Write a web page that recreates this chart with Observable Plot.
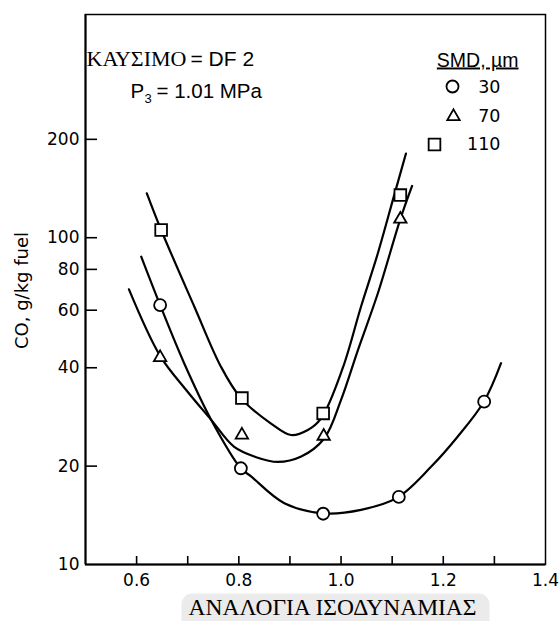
<!DOCTYPE html>
<html>
<head>
<meta charset="utf-8">
<script src="https://cdn.jsdelivr.net/npm/d3@7"></script>
<script src="https://cdn.jsdelivr.net/npm/@observablehq/plot@0.6"></script>
<style>
  html, body { margin: 0; padding: 0; background: #fff; }
</style>
</head>
<body>
<div id="chart"></div>
<script>
// CO emission index versus equivalence ratio for three spray drop sizes (SMD)

// Measured points
const phi30 = [0.646, 0.804, 0.965, 1.113, 1.280];
const co30  = [62.2, 19.7, 14.3, 16.1, 31.5];
const phi70 = [0.646, 0.806, 0.966, 1.116];
const co70  = [43.0, 24.9, 24.7, 114];
const phi110 = [0.648, 0.806, 0.965, 1.116];
const co110  = [105.6, 32.3, 29.0, 135];

// Fitted curves through each series
const fitPhi30 = [0.609, 0.646, 0.693, 0.746, 0.804, 0.824, 0.889, 0.964, 1.039, 1.111, 1.176, 1.228, 1.280, 1.313];
const fitCo30  = [87.5, 62.2, 41.3, 27.7, 19.7, 18.6, 15.4, 14.35, 14.7, 16.05, 19.9, 24.6, 31.6, 41.3];
const fitPhi70 = [0.585, 0.646, 0.697, 0.746, 0.791, 0.834, 0.876, 0.922, 0.967, 1.000, 1.033, 1.072, 1.116, 1.139];
const fitCo70  = [69.5, 43.5, 34.2, 27.7, 22.9, 21.3, 20.6, 21.4, 24.3, 31.9, 45.3, 67.6, 114, 144];
const fitPhi110 = [0.620, 0.648, 0.713, 0.765, 0.804, 0.863, 0.902, 0.935, 0.961, 1.003, 1.039, 1.072, 1.104, 1.127];
const fitCo110  = [136.7, 105.6, 61.5, 40.3, 32.3, 27.0, 24.9, 25.8, 28.0, 39.8, 61.5, 89.6, 135, 181];

// Axis ticks
const xTickLabels = [0.6, 0.8, 1.0, 1.2, 1.4];
const xTicks = [0.6, 0.7, 0.8, 0.9, 1.0, 1.1, 1.2, 1.3];
const yTickLabels = [10, 20, 40, 60, 80, 100, 200];
const yTicks = [20, 40, 60, 80, 100, 200];

// Texts
const smdValues = ["30", "70", "110"];
const legendTitle = "SMD, µm";
const fuelLabel = "ΚΑΥΣΙΜΟ";
const fuelValue = "= DF 2";
const pressureSymbol = "P";
const pressureIndex = "3";
const pressureValue = "= 1.01 MPa";
const xLabel = "ΑΝΑΛΟΓΙΑ ΙΣΟΔΥΝΑΜΙΑΣ";
const yLabel = "CO, g/kg fuel";

const rows = (xs, ys) => xs.map((x, i) => ({x, y: ys[i]}));

const series = [
  {points: rows(phi30, co30),   fit: rows(fitPhi30, fitCo30),   symbol: "circle",   r: 6.0, lx: -93,  ly: 72},
  {points: rows(phi70, co70),   fit: rows(fitPhi70, fitCo70),   symbol: "triangle", r: 4.6, lx: -92,  ly: 102},
  {points: rows(phi110, co110), fit: rows(fitPhi110, fitCo110), symbol: "square",   r: 6.6, lx: -111, ly: 130}
];

const W = 560, H = 621;
const mL = 85, mR = 15, mT = 14, mB = 57;
const frameW = W - mL - mR, frameH = H - mT - mB;
const sans = "DejaVu Sans";
const helv = "Liberation Sans";
const serif = "Liberation Serif";

const marks = [
  Plot.frame({strokeWidth: 1.5}),
  Plot.ruleX([0.5], {strokeWidth: 2}),
  Plot.ruleY([10], {strokeWidth: 2}),
  Plot.ruleX(xTicks, {insetTop: frameH - 8, strokeWidth: 1.6}),
  Plot.ruleY(yTicks, {insetRight: frameW - 12, strokeWidth: 1.6}),
  // tick labels
  Plot.text(xTickLabels, {
    x: d => d, frameAnchor: "bottom", dy: 9, textAnchor: "middle", lineAnchor: "top",
    text: d => d.toFixed(1), fontFamily: sans, fontSize: 17, fill: "black"
  }),
  Plot.text(yTickLabels, {
    y: d => d, frameAnchor: "left", dx: -6, textAnchor: "end", lineAnchor: "middle",
    text: d => String(d), fontFamily: sans, fontSize: 17, fill: "black"
  })
];

for (const s of series) {
  marks.push(Plot.line(s.fit, {x: "x", y: "y", curve: "catmull-rom", stroke: "black", strokeWidth: 2.2}));
}
for (const s of series) {
  marks.push(Plot.dot(s.points, {x: "x", y: "y", symbol: s.symbol, r: s.r, stroke: "black", fill: "white", strokeWidth: 1.8}));
}

// Legend
marks.push(Plot.text([legendTitle], {
  frameAnchor: "top-right", dx: -27, dy: 52, textAnchor: "end", lineAnchor: "bottom",
  fontFamily: helv, fontSize: 19.5, fill: "black"
}));
series.forEach((s, i) => {
  marks.push(Plot.dot([0], {
    frameAnchor: "top-right", dx: s.lx, dy: s.ly, symbol: s.symbol, r: s.r,
    stroke: "black", fill: "white", strokeWidth: 1.8
  }));
  marks.push(Plot.text([smdValues[i]], {
    frameAnchor: "top-right", dx: -45, dy: 78.5 + i * 28.7, textAnchor: "end", lineAnchor: "bottom",
    fontFamily: sans, fontSize: 17.5, fill: "black"
  }));
});

// Operating conditions
marks.push(Plot.text([fuelLabel], {
  frameAnchor: "top-left", dx: 1, dy: 51, textAnchor: "start", lineAnchor: "bottom",
  fontFamily: serif, fontSize: 22, fill: "black"
}));
marks.push(Plot.text([fuelValue], {
  frameAnchor: "top-left", dx: 105, dy: 51, textAnchor: "start", lineAnchor: "bottom",
  fontFamily: helv, fontSize: 21, fill: "black"
}));
marks.push(Plot.text([pressureSymbol], {
  frameAnchor: "top-left", dx: 45, dy: 83, textAnchor: "start", lineAnchor: "bottom",
  fontFamily: helv, fontSize: 20.5, fill: "black"
}));
marks.push(Plot.text([pressureIndex], {
  frameAnchor: "top-left", dx: 59, dy: 88, textAnchor: "start", lineAnchor: "bottom",
  fontFamily: helv, fontSize: 13, fill: "black"
}));
marks.push(Plot.text([pressureValue], {
  frameAnchor: "top-left", dx: 71, dy: 83, textAnchor: "start", lineAnchor: "bottom",
  fontFamily: helv, fontSize: 20.5, fill: "black"
}));

// Axis titles
marks.push(Plot.text([yLabel], {
  frameAnchor: "left", dx: -63, dy: 1, rotate: -90, textAnchor: "middle", lineAnchor: "middle",
  fontFamily: sans, fontSize: 18, fill: "black"
}));
marks.push(Plot.text([xLabel], {
  frameAnchor: "bottom", dx: 17, dy: 50, textAnchor: "middle", lineAnchor: "bottom",
  fontFamily: serif, fontSize: 23.5, fill: "black"
}));

const chart = Plot.plot({
  width: W,
  height: H,
  marginLeft: mL,
  marginRight: mR,
  marginTop: mT,
  marginBottom: mB,
  style: {fontFamily: sans, fontSize: "17px", background: "white", color: "black", overflow: "visible"},
  x: {domain: [0.5, 1.4], axis: null},
  y: {type: "log", domain: [10, 482], axis: null},
  marks
});

document.getElementById("chart").appendChild(chart);

// Underline the legend heading and shade the horizontal axis title
const svg = d3.select(chart.tagName.toLowerCase() === "svg" ? chart : chart.querySelector("svg"));
svg.selectAll("text").filter(function() { return this.textContent === legendTitle; })
  .attr("text-decoration", "underline");
svg.selectAll("text").filter(function() { return this.textContent === xLabel; })
  .each(function() {
    const bb = this.getBBox();
    const r = document.createElementNS("http://www.w3.org/2000/svg", "rect");
    r.setAttribute("x", bb.x - 7);
    r.setAttribute("y", bb.y);
    r.setAttribute("width", bb.width + 20);
    r.setAttribute("height", bb.height + 20);
    r.setAttribute("rx", 11);
    r.setAttribute("fill", "#ebebeb");
    const t = this.getAttribute("transform");
    if (t) r.setAttribute("transform", t);
    this.parentNode.insertBefore(r, this);
  });
</script>
</body>
</html>
